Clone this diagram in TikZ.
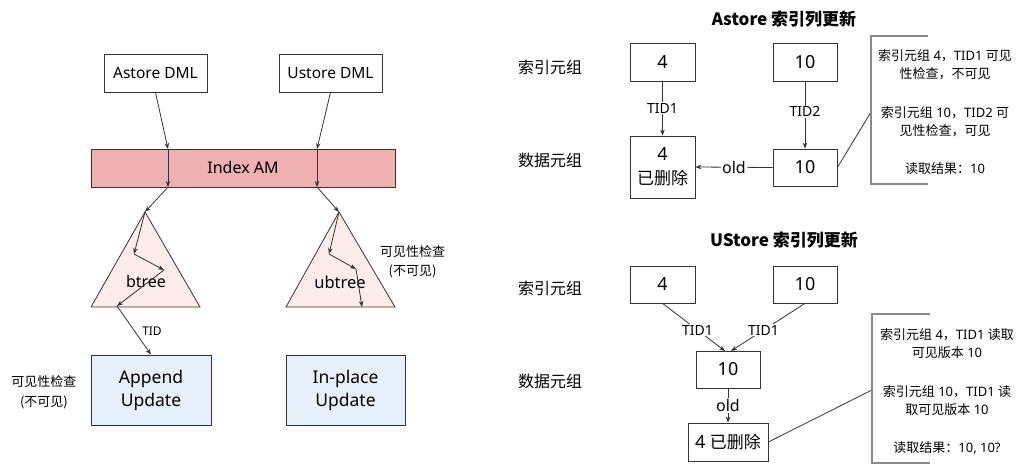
\documentclass[tikz,border=0pt]{standalone}
\usepackage{fontspec}
\setmainfont{Noto Sans}
\newfontfamily\cjk{Noto Sans CJK SC}
\usetikzlibrary{arrows.meta}
\newcommand\fsz[2]{\fontsize{#1pt}{#2pt}\selectfont}
\newcommand\zh[1]{{\cjk #1}}
\definecolor{lc}{HTML}{333333}
\definecolor{amfill}{HTML}{EFB0B1}
\definecolor{trifill}{HTML}{FDECE9}
\definecolor{updfill}{HTML}{E7F0FA}
\definecolor{brc}{HTML}{8A8A8A}
\begin{document}
\begin{tikzpicture}[x=1pt,y=-1pt,
  box/.style={draw=lc, line width=0.8pt, fill=white, inner sep=0pt, align=center},
  conn/.style={draw=lc, line width=0.8pt},
  arr/.style={conn, -{Stealth[length=6pt,width=4.5pt]}},
  lbl/.style={fill=white, inner sep=1pt},
  tri/.style={draw=lc, line width=0.8pt, fill=trifill},
  brk/.style={draw=brc, line width=1.3pt},
  note/.style={align=center, font=\fsz{13}{18}}
]
\useasboundingbox (0,0) rectangle (1021,465);

% ---------------- left part ----------------
\node[box, minimum width=103pt, minimum height=38pt, font=\fsz{15.5}{17}] (adml) at (155.5,73) {Astore DML};
\node[box, minimum width=103pt, minimum height=38pt, font=\fsz{15.5}{17}] (udml) at (330.5,73) {Ustore DML};
\node[box, fill=amfill, minimum width=304pt, minimum height=38pt, font=\fsz{16}{18}] (am) at (243,168) {Index AM};

\coordinate (bt) at (145,212);
\coordinate (ut) at (339,212);
\path[tri] (bt) -- (91,307) -- (200,307) -- cycle;
\path[tri] (ut) -- (286,307) -- (395,307) -- cycle;
\node[font=\fsz{16}{18}] (btree) at (146,282) {btree};
\node[font=\fsz{16.5}{18}] (ubtree) at (340,282) {ubtree};

\node[box, fill=updfill, minimum width=120pt, minimum height=70pt, font=\fsz{17.5}{23}] (app) at (151,390) {Append\\Update};
\node[box, fill=updfill, minimum width=119pt, minimum height=70pt, font=\fsz{17.5}{23}] (inp) at (345.5,390) {In-place\\Update};

\coordinate (a1) at (168,149);
\coordinate (a2) at (168,187);
\coordinate (b1) at (134,254);
\coordinate (b2) at (164,270);
\coordinate (b3) at (117,306);
\draw[arr] (adml.south) -- (a1);
\draw[arr] (a1) -- (a2);
\draw[arr] (a2) -- (bt);
\draw[arr] (bt) -- (b1);
\draw[arr] (b1) -- (b2);
\draw[arr] (b2) -- (b3);
\draw[arr] (b3) -- (app.north);
\node[font=\fsz{12}{14}] (tid) at (152,331) {TID};

\coordinate (u1) at (317,149);
\coordinate (u2) at (317,187);
\coordinate (c1) at (329,254);
\coordinate (c2) at (356,269);
\coordinate (c3) at (362,307);
\draw[arr] (udml.south) -- (u1);
\draw[arr] (u1) -- (u2);
\draw[arr] (u2) -- (ut);
\draw[arr] (ut) -- (c1);
\draw[arr] (c1) -- (c2);
\draw[arr] (c2) -- (c3);

\node[align=center, font=\cjk\fsz{13}{20}] (visL) at (44,392) {可见性检查\\(不可见)};
\node[align=center, font=\cjk\fsz{13}{19}] (visR) at (412.5,261.5) {可见性检查\\(不可见)};

% ---------------- right top: Astore ----------------
\node[font=\cjk\bfseries\fsz{17}{19}] (t1) at (784,19) {Astore 索引列更新};
\node[font=\cjk\fsz{16}{18}] (i1) at (550,67) {索引元组};
\node[font=\cjk\fsz{16}{18}] (d1) at (550,160) {数据元组};

\node[box, minimum width=65pt, minimum height=38pt, font=\fsz{18}{20}] (x4) at (662.5,62) {4};
\node[box, minimum width=64pt, minimum height=38pt, font=\fsz{18}{20}] (x10) at (805,62) {10};
\node[box, minimum width=65pt, minimum height=62pt, font=\fsz{18}{24}] (h4) at (662.5,167) {4\\\zh{\fsz{17}{24}已删除}};
\node[box, minimum width=64pt, minimum height=37pt, font=\fsz{18}{20}] (h10) at (805,167.5) {10};

\draw[arr] (x4.south) -- node[lbl, font=\fsz{14}{16}] {TID1} (h4.north);
\draw[arr] (x10.south) -- node[lbl, pos=0.45, font=\fsz{14}{16}] {TID2} (h10.north);
\draw[arr] (h10.west) -- node[lbl, font=\fsz{16}{18}] {old} (h4.east);

\coordinate (k1) at (871,112);
\draw[conn] (h10.east) -- (k1);
\draw[brk] (928,36) -- (871,36) -- (871,184) -- (928,184);
\node[note] (n11) at (945,65) {\zh{索引元组} 4\zh{，}TID1 \zh{可见}\\\zh{性检查，不可见}};
\node[note] (n12) at (945,122) {\zh{索引元组} 10\zh{，}TID2 \zh{可}\\\zh{见性检查，可见}};
\node[note] (n13) at (945,169) {\zh{读取结果：}10};

% ---------------- right bottom: UStore ----------------
\node[font=\cjk\bfseries\fsz{17}{19}] (t2) at (784,240) {UStore 索引列更新};
\node[font=\cjk\fsz{16}{18}] (i2) at (550,288) {索引元组};
\node[font=\cjk\fsz{16}{18}] (d2) at (550,381) {数据元组};

\node[box, minimum width=65pt, minimum height=37pt, font=\fsz{18}{20}] (y4) at (662.5,284.5) {4};
\node[box, minimum width=64pt, minimum height=37pt, font=\fsz{18}{20}] (y10) at (805,284.5) {10};
\node[box, minimum width=64pt, minimum height=37pt, font=\fsz{18}{20}] (m10) at (728,369.5) {10};
\node[box, minimum width=80pt, minimum height=38pt, font=\fsz{18}{20}] (del) at (728,442) {4 \zh{\fsz{17}{20}已删除}};

\coordinate (m1) at (725,351);
\coordinate (m2) at (731,351);
\draw[arr] (y4.south) -- node[lbl, pos=0.56, font=\fsz{14}{16}] {TID1} (m1);
\draw[arr] (y10.south) -- node[lbl, pos=0.56, font=\fsz{14}{16}] {TID1} (m2);
\draw[arr] (m10.south) -- node[lbl, font=\fsz{16}{18}] {old} (del.north);

\coordinate (k2) at (872,390);
\draw[conn] (del.east) -- (k2);
\draw[brk] (930,314) -- (872,314) -- (872,463) -- (930,463);
\node[note] (n21) at (947,344) {\zh{索引元组} 4\zh{，}TID1 \zh{读取}\\\zh{可见版本} 10};
\node[note] (n22) at (947,401) {\zh{索引元组} 10\zh{，}TID1 \zh{读}\\\zh{取可见版本} 10};
\node[note] (n23) at (947,448) {\zh{读取结果：}10, 10?};
\end{tikzpicture}
\end{document}
